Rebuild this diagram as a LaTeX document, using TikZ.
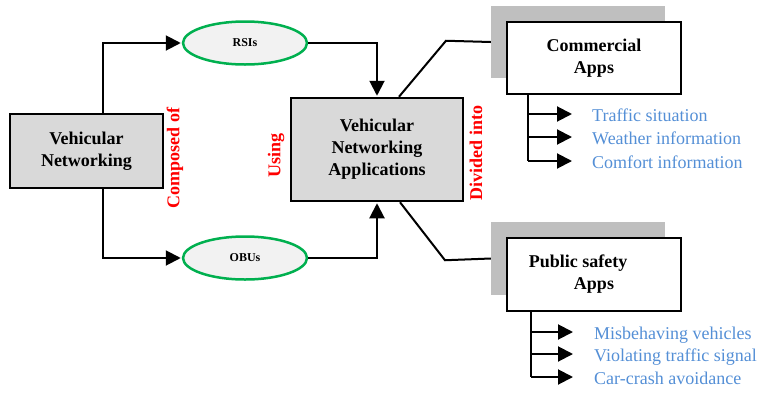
\documentclass[tikz,border=0pt]{standalone}
\usepackage{fontspec}
\setmainfont{Liberation Serif}
\usetikzlibrary{positioning,calc,shapes.geometric,arrows.meta}
\definecolor{boxgray}{rgb}{0.85, 0.85, 0.85}
\definecolor{shadowgray}{rgb}{0.75, 0.75, 0.75}
\definecolor{ovalgray}{rgb}{0.95, 0.95, 0.95}
\definecolor{ovalgreen}{rgb}{0.0, 0.69, 0.31}
\definecolor{itemblue}{rgb}{0.33, 0.56, 0.84}

\tikzset{
	bigbox/.style={rectangle,draw,line width=2.5pt,fill=boxgray,align=center,font=\fontsize{18}{22}\selectfont\bfseries},
	appbox/.style={rectangle,draw,line width=2.5pt,fill=white,minimum width=174pt,minimum height=72pt,align=center,font=\fontsize{18}{22}\selectfont\bfseries},
	appshadow/.style={rectangle,fill=shadowgray,minimum width=174pt,minimum height=72pt},
	oval/.style={ellipse,draw=ovalgreen,line width=2.5pt,fill=ovalgray,minimum width=124pt,minimum height=43pt,font=\fontsize{12}{14}\selectfont\bfseries},
	verb/.style={rotate=90,text=red,font=\fontsize{18}{22}\selectfont\bfseries},
	item/.style={anchor=west,inner sep=0pt,text height=15pt,text depth=1pt,text=itemblue,font=\fontsize{18}{22}\selectfont},
	link/.style={line width=2pt,-{Triangle[length=15pt,width=15pt]},shorten >=1pt},
	plain/.style={line width=2pt},
}

\begin{document}
\begin{tikzpicture}[x=1pt,y=-1pt]
		\useasboundingbox (0,0) rectangle (761,394);
		
		\node[bigbox,minimum width=153pt,minimum height=74pt] (VN) at (86.5,151) {Vehicular\\Networking};
		\node[bigbox,minimum width=172pt,minimum height=103pt] (VNA) at (377,149.5) {Vehicular\\Networking\\Applications};
		
		\node[oval] (RSI) at (245,43) {RSIs};
		\node[oval] (OBU) at (245,258) {OBUs};
		
		% application boxes sit on a grey block shifted up and left
		\node[appshadow] (CAshadow) at (578,42) {};
		\node[appbox] (CA) at (594,58) {Commercial\\Apps};
		\node[appshadow,minimum height=73pt] (PSshadow) at (578,258.5) {};
		\node[appbox,minimum height=73pt] (PS) at (594,274.5) {Public safety\hspace*{32pt}\\Apps};
		
		\node[verb] (composed) at (175,158) {Composed of};
		\node[verb] (using) at (276,155) {Using};
		\node[verb] (divided) at (476,153) {Divided into};
		
		\draw[link] ($(VN.north)+(16.5,0)$) |- (RSI.west);
		\draw[link] ($(VN.south)+(16.5,0)$) |- (OBU.west);
		\draw[link] (RSI.east) -| (VNA.north);
		\draw[link] (OBU.east) -| (VNA.south);
		
		\draw[plain] ($(VNA.north)+(22,0)$) -- ++(47,-56) -- (CAshadow.west);
		\draw[plain] ($(VNA.south)+(23,0)$) -- ++(45,58) -- (PSshadow.west);
		
		% commercial apps
		\node[item] (ca1) at (592,114) {Traffic situation};
		\node[item] (ca2) at (592,137) {Weather information};
		\node[item] (ca3) at (592,161) {Comfort information};
		\coordinate (CAstem) at ($(CA.south west)+(22,0)$);
		\draw[plain] (CAstem) -- (CAstem |- ca3.west);
		\foreach \i in {ca1,ca2,ca3}
			\draw[link] (CAstem |- \i.west) -- ([xshift=-19pt]\i.west);
		
		% public safety apps
		\node[item] (ps1) at (594,332) {Misbehaving vehicles};
		\node[item] (ps2) at (594,354) {Violating traffic signal};
		\node[item] (ps3) at (594,377) {Car-crash avoidance};
		\coordinate (PSstem) at ($(PS.south west)+(25,0)$);
		\draw[plain] (PSstem) -- (PSstem |- ps3.west);
		\foreach \i in {ps1,ps2,ps3}
			\draw[link] (PSstem |- \i.west) -- ([xshift=-20pt]\i.west);
		
\end{tikzpicture}
\end{document}
